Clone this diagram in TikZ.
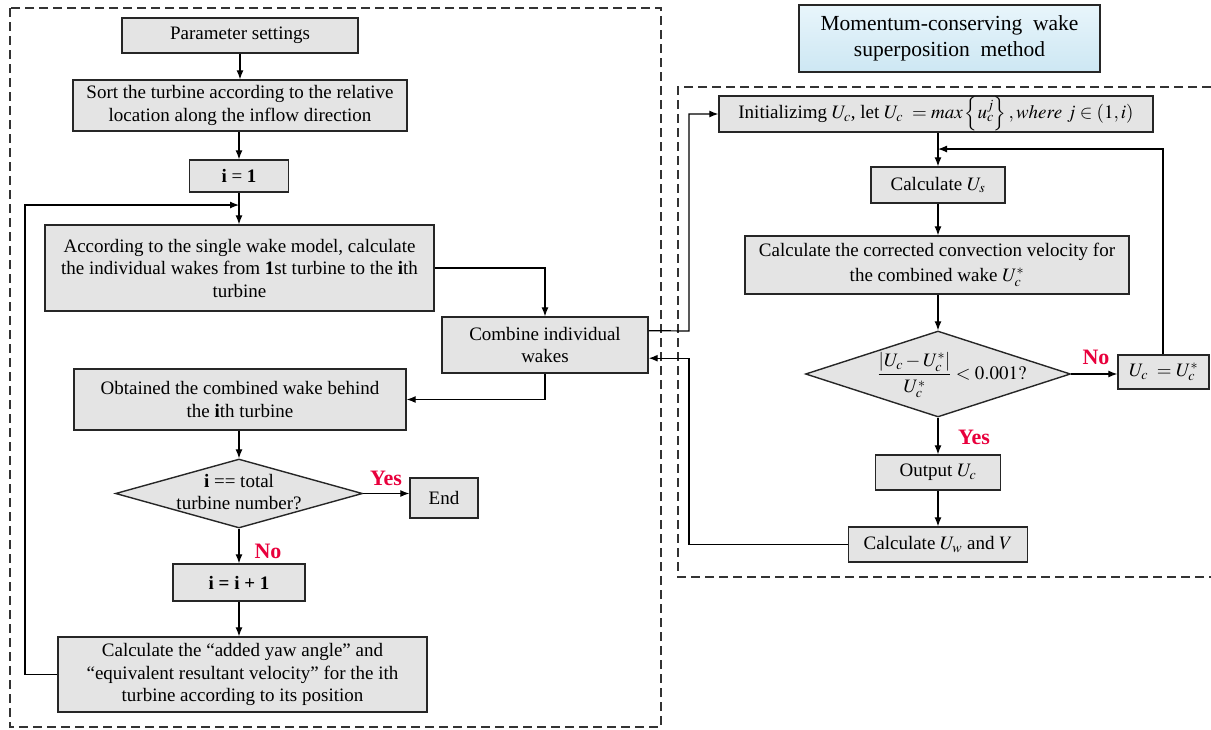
\documentclass[tikz,border=0pt]{standalone}
\usepackage{amsmath}
\usepackage{mathptmx}
\usepackage{fontspec}
\setmainfont{Liberation Serif}
\usetikzlibrary{arrows.meta,shapes.geometric,calc}
\definecolor{boxfill}{HTML}{E4E4E4}
\definecolor{lblred}{HTML}{E8003C}
\definecolor{momtop}{HTML}{E8F5FB}
\definecolor{mombot}{HTML}{CDE7F3}
\begin{document}
\begin{tikzpicture}[x=1pt,y=-1pt,
  box/.style={draw=black!85,line width=1.4pt,fill=boxfill,align=center,inner sep=1pt,font=\fontsize{19}{22.5}\selectfont},
  dia/.style={diamond,draw=black!85,line width=1.4pt,fill=boxfill,inner sep=0pt},
  txt/.style={align=center,inner sep=0pt,font=\fontsize{19}{22.5}\selectfont},
  arr/.style={-{Latex[length=9pt,width=7pt]},line width=1.2pt},
  lbl/.style={text=lblred,font=\bfseries\fontsize{22}{24}\selectfont,inner sep=0pt},
  dbox/.style={line width=1.2pt,dash pattern=on 9pt off 5pt,draw=black!80}]
\useasboundingbox (0,0) rectangle (1211,729);
% dashed frames
\draw[dbox] (10,8) rectangle (661,727);
\draw[dbox] (1211,87) -- (678,87) -- (678,577) -- (1211,577);
% left flow
\node[box,minimum width=236pt,minimum height=35pt] (param) at (240,35.5) {Parameter settings};
\node[box,minimum width=334pt,minimum height=51pt] (sort) at (240,105.5) {Sort the turbine according to the relative\\location along the inflow direction};
\node[box,minimum width=99pt,minimum height=32pt] (i1) at (239,176) {\textbf{i} = \textbf{1}};
\node[box,minimum width=389pt,minimum height=86pt] (acc) at (239.5,268) {According to the single wake model, calculate\\the individual wakes from \textbf{1}st turbine to the \textbf{i}th\\turbine};
\node[box,minimum width=206pt,minimum height=56pt] (comb) at (545,345) {Combine individual\\wakes};
\node[box,minimum width=332pt,minimum height=61pt] (obt) at (240,399.5) {Obtained the combined wake behind\\the \textbf{i}th turbine};
\node[dia,minimum width=247pt,minimum height=69pt] (d1) at (239,493.5) {};
\node[txt] (d1t) at (239,492) {\textbf{i} == total\\turbine number?};
\node[box,minimum width=68pt,minimum height=40pt] (endb) at (444,498) {End};
\node[box,minimum width=132pt,minimum height=37pt] (inc) at (239,582.5) {\textbf{i = i + 1}};
\node[box,minimum width=369pt,minimum height=75pt] (calc) at (242.5,674.5) {Calculate the ``added yaw angle'' and\\``equivalent resultant velocity'' for the ith\\turbine according to its position};
% right flow
\node[draw=black!85,line width=1.4pt,top color=momtop,bottom color=mombot,align=center,inner sep=1pt,minimum width=301pt,minimum height=67pt,font=\fontsize{21.5}{26}\selectfont] (mom) at (949.5,38.5) {Momentum-conserving\ \ wake\\superposition\ \ method};
\node[box,minimum width=434pt,minimum height=34pt] (init) at (936,114) {Initializimg $U_c$, let $U_c\ = max\left\{u_c^j\right\}, where\ j\in(1,i)$};
\node[box,minimum width=134pt,minimum height=36pt] (us) at (938,185) {Calculate $U_s$};
\node[box,minimum width=384pt,minimum height=58pt,font=\fontsize{19}{25}\selectfont] (corr) at (937,265) {Calculate the corrected convection velocity for\\the combined wake $U_c^*$};
\node[dia,minimum width=265pt,minimum height=86pt] (d2) at (938,374) {};
\node[txt] (d2t) at (952,375) {$\dfrac{|U_c-U_c^*|}{U_c^*}<0.001?$};
\node[box,minimum width=91pt,minimum height=34pt] (ucb) at (1163.5,372) {$U_c\ =U_c^*$};
\node[box,minimum width=125pt,minimum height=35pt] (out) at (938,472.5) {Output $U_c$};
\node[box,minimum width=179pt,minimum height=35pt] (uw) at (938,544.5) {Calculate $U_w$ and $V$};
% labels
\node[lbl] (yes1) at (386,478) {Yes};
\node[lbl] (no1) at (268,551) {No};
\node[lbl] (no2) at (1096,357) {No};
\node[lbl] (yes2) at (974,437) {Yes};
% coordinates
\coordinate (lpc) at (25,205);
\coordinate (rlp) at (1163,149);
\coordinate (cm1) at ($(comb.north east)!0.25!(comb.south east)$);
\coordinate (cm2) at ($(comb.north east)!0.73!(comb.south east)$);
\coordinate (cx) at (689,331);
% left connectors
\draw[arr] (param) -- (sort);
\draw[arr] (sort.south -| i1.north) -- (i1.north);
\draw[arr] (i1) -- (i1 |- acc.north);
\draw[arr] (calc.west) -| (lpc) -- (lpc -| i1.south);
\draw[arr] (acc.east) -| (comb.north);
\draw[arr] (comb.south) |- (obt.east);
\draw[arr] (obt.south -| d1.north) -- (d1.north);
\draw[arr] (d1.east) -- (d1.east -| endb.west);
\draw[arr] (d1.south) -- (inc.north);
\draw[arr] (inc.south) -- (inc.south |- calc.north);
% cross connectors
\draw[arr] (cm1) -- (cx) |- (init.west);
\draw[arr] (uw.west) -- (uw.west -| cx) -- (cx |- cm2) -- (cm2);
% right connectors
\draw[arr] (init.south -| us.north) -- (us.north);
\draw[arr] (ucb.north -| rlp) -- (rlp) -- (rlp -| us.north);
\draw[arr] (us.south) -- (us.south |- corr.north);
\draw[arr] (corr.south -| d2.north) -- (d2.north);
\draw[arr] (d2.east) -- (d2.east -| ucb.west);
\draw[arr] (d2.south) -- (out.north);
\draw[arr] (out.south) -- (uw.north);
\end{tikzpicture}
\end{document}
